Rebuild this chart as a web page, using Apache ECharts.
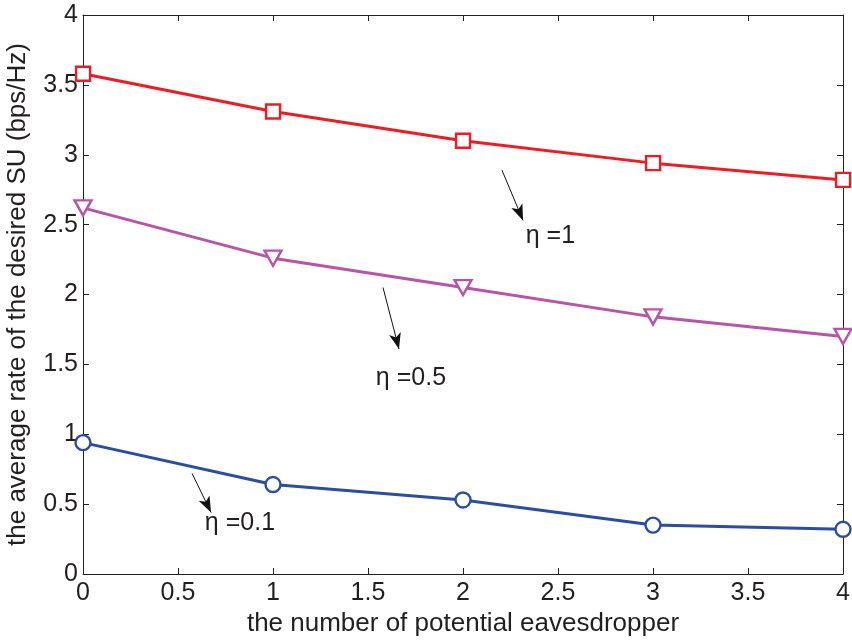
<!DOCTYPE html>
<html>
<head>
<meta charset="utf-8">
<script src="https://cdn.jsdelivr.net/npm/echarts@6/dist/echarts.min.js"></script>
<style>html,body{margin:0;padding:0;background:#fff;}#c{width:852px;height:641px;}</style>
</head>
<body>
<div id="c"></div>
<script>
var xValues = [0, 1, 2, 3, 4];
var eta1 = [3.58, 3.31, 3.10, 2.94, 2.82];
var eta05 = [2.62, 2.26, 2.05, 1.84, 1.70];
var eta01 = [0.94, 0.64, 0.53, 0.35, 0.32];
var seriesNames = ['η =1', 'η =0.5', 'η =0.1'];
// annotation arrows: [startX, startY, tipX, tipY] in data units; label anchors [x, y]
var arrows = [[2.205, 2.89, 2.316, 2.53], [1.579, 2.05, 1.663, 1.61], [0.574, 0.72, 0.674, 0.44]];
var labelPos = [[2.46, 2.42], [1.726, 1.40], [0.826, 0.365]];

var FONT = '"Liberation Sans", Arial, Helvetica, sans-serif';
var colors = ['#ee1c25', '#b955a9', '#2b4ea3'];
var symbols = ['rect', 'path://M0,0 L10,0 L5,9 Z', 'circle'];
var symSizes = [14, [17, 15], 15];
var dataSets = [eta1, eta05, eta01];

function pairs(ys) { return xValues.map(function (x, i) { return [x, ys[i]]; }); }

var chart = echarts.init(document.getElementById('c'), null, { renderer: 'canvas' });
var series = dataSets.map(function (ys, k) {
  return {
    name: seriesNames[k],
    type: 'line',
    data: pairs(ys),
    symbol: symbols[k],
    symbolSize: symSizes[k],
    showAllSymbol: true,
    lineStyle: { color: colors[k], width: 3 },
    itemStyle: { color: '#fff', borderColor: colors[k], borderWidth: 2.4 },
    z: 3,
    markLine: {
      silent: true,
      symbol: ['none', 'arrow'],
      symbolSize: [9, 16],
      lineStyle: { color: '#111', width: 1, type: 'solid' },
      label: { show: false },
      data: [[{ coord: [arrows[k][0], arrows[k][1]] }, { coord: [arrows[k][2], arrows[k][3]] }]]
    },
    markPoint: {
      silent: true,
      symbol: 'circle',
      symbolSize: 1,
      itemStyle: { color: 'rgba(0,0,0,0)' },
      label: { show: true, position: 'inside', formatter: seriesNames[k], color: '#231f20', fontSize: 25, fontFamily: FONT },
      data: [{ coord: labelPos[k] }]
    }
  };
});

var axisCommon = {
  axisLine: { show: true, onZero: false, lineStyle: { color: '#231f20', width: 1 } },
  axisTick: { show: true, inside: true, length: 6, lineStyle: { color: '#231f20' } },
  splitLine: { show: false }
};

chart.setOption({
  animation: false,
  backgroundColor: '#fff',
  grid: { left: 83, right: 9, top: 15, bottom: 67, containLabel: false, outerBoundsMode: 'none' },
  xAxis: [
    Object.assign({
      type: 'value', min: 0, max: 4, interval: 0.5, position: 'bottom',
      name: 'the number of potential eavesdropper', nameLocation: 'middle', nameGap: 35,
      nameTextStyle: { fontSize: 26, color: '#231f20', fontFamily: FONT },
      axisLabel: { fontSize: 25, color: '#231f20', fontFamily: FONT, margin: 7 }
    }, axisCommon),
    Object.assign({
      type: 'value', min: 0, max: 4, interval: 0.5, position: 'top',
      axisLabel: { show: false }
    }, axisCommon)
  ],
  yAxis: [
    Object.assign({
      type: 'value', min: 0, max: 4, interval: 0.5, position: 'left',
      name: 'the average rate of the desired SU (bps/Hz)', nameLocation: 'middle', nameGap: 52,
      nameTextStyle: { fontSize: 26, color: '#231f20', fontFamily: FONT },
      axisLabel: { fontSize: 25, color: '#231f20', fontFamily: FONT, margin: 5 }
    }, axisCommon),
    Object.assign({
      type: 'value', min: 0, max: 4, interval: 0.5, position: 'right',
      axisLabel: { show: false }
    }, axisCommon)
  ],
  series: series
});
</script>
</body>
</html>
